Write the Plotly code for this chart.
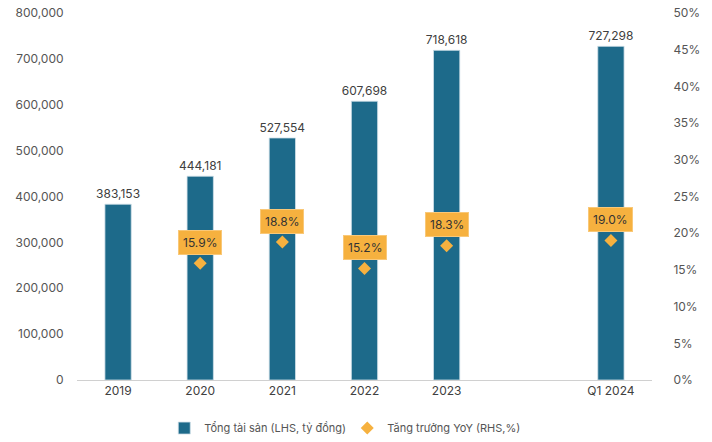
import plotly.graph_objects as go

# Categories (an empty slot separates the annual series from the quarter)
categories = ["2019", "2020", "2021", "2022", "2023", "gap", "Q1 2024"]
tick_labels = ["2019", "2020", "2021", "2022", "2023", "", "Q1 2024"]
total_assets = [383153, 444181, 527554, 607698, 718618, None, 727298]
yoy_growth = [None, 0.159, 0.188, 0.152, 0.183, None, 0.190]

BAR_COLOR = "#1d6a8a"
DOT_COLOR = "#f6b13f"
TEXT_COLOR = "#555555"
FONT = "Inter, Roboto, sans-serif"

fig = go.Figure()

fig.add_trace(go.Bar(
    x=categories,
    y=total_assets,
    name="Tổng tài sản (LHS, tỷ đồng)",
    marker=dict(color=BAR_COLOR, line=dict(color="#cfe0e8", width=0.8)),
    width=0.32,
    texttemplate="%{y:,}",
    textposition="outside",
    constraintext="none",
    textfont=dict(size=12, color="#404040", family=FONT),
    cliponaxis=False,
))

fig.add_trace(go.Scatter(
    x=categories,
    y=yoy_growth,
    name="Tăng trưởng YoY (RHS,%)",
    mode="markers",
    marker=dict(symbol="diamond", size=10, color=DOT_COLOR),
    yaxis="y2",
))

# Orange value boxes above each growth marker (positioned by category index)
for idx, val in enumerate(yoy_growth):
    if val is None:
        continue
    fig.add_annotation(
        x=idx, y=val, xref="x", yref="y2",
        text=f"{val * 100:.1f}%",
        showarrow=False,
        yshift=21,
        bgcolor=DOT_COLOR,
        bordercolor="#f9c878",
        borderwidth=1,
        borderpad=4,
        font=dict(size=12, color="#333333", family=FONT),
    )

fig.update_layout(
    width=712,
    height=442,
    margin=dict(l=77, r=60, t=13, b=62, autoexpand=False),
    paper_bgcolor="white",
    plot_bgcolor="white",
    font=dict(family=FONT, size=12, color=TEXT_COLOR),
    showlegend=True,
    legend=dict(
        orientation="h",
        x=0.47, xanchor="center",
        y=-0.131, yanchor="middle",
        font=dict(size=11, color=TEXT_COLOR),
        itemwidth=30,
        entrywidth=138,
        entrywidthmode="pixels",
        traceorder="normal",
    ),
    xaxis=dict(
        type="category",
        categoryorder="array",
        categoryarray=categories,
        range=[-0.5, len(categories) - 0.5],
        tickvals=categories,
        ticktext=tick_labels,
        tickangle=0,
        automargin=False,
        showline=True,
        linecolor="#d0d0d0",
        linewidth=1,
        ticks="",
        showgrid=False,
        tickfont=dict(size=12, color="#404040"),
    ),
    yaxis=dict(
        range=[0, 800000],
        dtick=100000,
        tickformat=",",
        automargin=False,
        showgrid=False,
        zeroline=False,
        showline=False,
        ticks="outside",
        ticklen=10,
        tickcolor="rgba(0,0,0,0)",
        tickfont=dict(size=12, color=TEXT_COLOR),
    ),
    yaxis2=dict(
        overlaying="y",
        side="right",
        range=[0, 0.5],
        dtick=0.05,
        tickformat=".0%",
        automargin=False,
        showgrid=False,
        zeroline=False,
        showline=False,
        ticks="outside",
        ticklen=18,
        tickcolor="rgba(0,0,0,0)",
        tickfont=dict(size=12, color=TEXT_COLOR),
    ),
)

fig.write_html("out.html")
